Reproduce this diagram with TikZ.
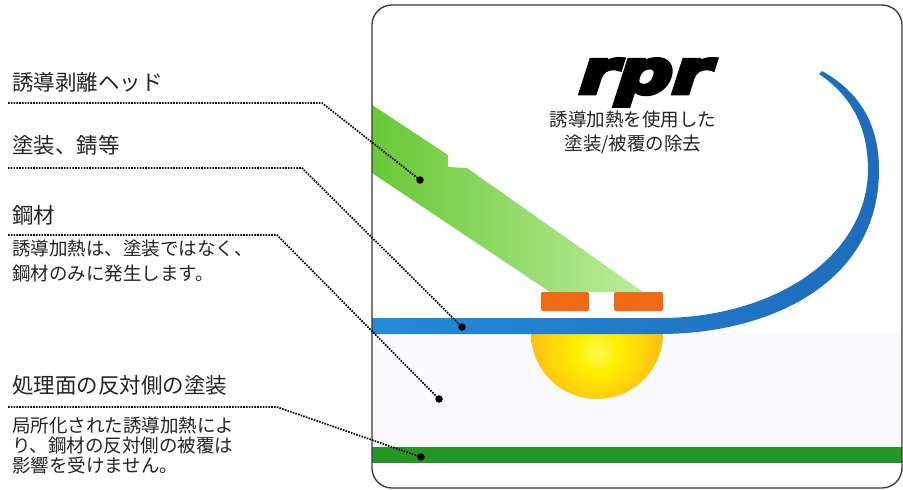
\documentclass[tikz,border=0pt]{standalone}
\usepackage{fontspec}
\newfontfamily\jpfont{Noto Sans CJK JP}
\newfontfamily\logofont{DejaVu Sans Bold}[FakeSlant=0.32,FakeStretch=1.28,FakeBold=8]

\definecolor{ink}{RGB}{35,35,35}
\definecolor{framecol}{RGB}{55,55,55}
\definecolor{headA}{RGB}{100,198,50}
\definecolor{headB}{RGB}{188,236,155}
\definecolor{steelA}{RGB}{35,140,215}
\definecolor{steelB}{RGB}{30,108,188}
\definecolor{coilcol}{RGB}{240,105,20}
\definecolor{backcoat}{RGB}{35,150,35}
\definecolor{haze}{RGB}{250,250,252}
\definecolor{sunA}{RGB}{255,250,80}
\definecolor{sunB}{RGB}{255,238,0}
\definecolor{sunC}{RGB}{252,200,15}
\definecolor{sunD}{RGB}{244,165,28}
\definecolor{sunE}{RGB}{250,215,130}

% heat spot: bright core slightly below the centre, soft orange rim
\pgfdeclareradialshading{sunglow}{\pgfpoint{0bp}{-8bp}}{%
  color(0bp)=(sunA); color(8bp)=(sunB); color(22bp)=(sunC);
  color(35bp)=(sunD); color(43bp)=(sunE); color(50bp)=(white)}

\tikzset{
  lbl/.style={anchor=base west, inner sep=0pt, text=ink,
    font=\jpfont\fontsize{21.5}{26}\selectfont},
  note/.style={anchor=north west, inner sep=0pt, text=ink, align=left},
  leader/.style={draw=black, line width=1.7pt, dash pattern=on 1.6pt off 1.2pt},
  dotmark/.style={circle, fill=black, inner sep=0pt, minimum size=7.5pt},
  coil/.style={fill=coilcol, rounded corners=1.5pt},
}

\begin{document}
\begin{tikzpicture}[x=1pt,y=-1pt]
\useasboundingbox (0,0) rectangle (903,490);

% ---- panel contents ----
\begin{scope}
  \clip[rounded corners=20pt] (372,5) rectangle (902,488);
  \fill[white] (372,5) rectangle (902,488);
  \fill[haze] (372,333) rectangle (902,447);
  % coating on the back side
  \fill[backcoat] (372,447) rectangle (902,463);
  % heated zone in the steel
  \begin{scope}
    \clip (500,320) rectangle (700,410);
    \shade[shading=sunglow] (597,333) circle (66);
  \end{scope}
  % induction head
  \shade[left color=headA, right color=headB]
    (360,97) -- (448,155) -- (448,167) -- (467,168) -- (643,292)
    -- (550,292) -- (360,165) -- cycle;
  % coils
  \fill[coil] (541,292) rectangle (589,311);
  \fill[coil] (614,292) rectangle (663,311);
  % steel sheet, peeled coating curling up
  \shade[left color=steelA, right color=steelB]
    (360,334) -- (660,334)
    .. controls (768,334) and (879,284) .. (879,170)
    .. controls (879,120) and (856,90) .. (822,71)
    -- (819,74)
    .. controls (850,95) and (868,125) .. (868,170)
    .. controls (867,258) and (772,318) .. (660,318)
    -- (360,318) -- cycle;
\end{scope}
\draw[framecol, line width=1.3pt, rounded corners=20pt] (372,5) rectangle (902,488);

% ---- title ----
\node[inner sep=0pt, anchor=base, text=black] (logo) at (640,93)
  {\logofont\fontsize{60}{60}\selectfont rpr};
\node[inner sep=0pt, anchor=north, text=ink, align=center,
  font=\jpfont\fontsize{18.5}{24}\selectfont] (title) at (633,111)
  {誘導加熱を使用した\\塗装/被覆の除去};

% ---- labels ----
\node[lbl] (hHead) at (12,90.5) {誘導剥離ヘッド};
\node[lbl] (hCoat) at (12,153) {塗装、錆等};
\node[lbl] (hSteel) at (12,223.5) {鋼材};
\node[note, font=\jpfont\fontsize{18.5}{25}\selectfont] (nSteel) at (12,240)
  {誘導加熱は、塗装ではなく、\\鋼材のみに発生します。};
\node[lbl] (hBack) at (12,393) {処理面の反対側の塗装};
\node[note, font=\jpfont\fontsize{18.5}{20}\selectfont] (nBack) at (12,416.5)
  {局所化された誘導加熱によ\\り、鋼材の反対側の被覆は\\影響を受けません。};

% ---- leader lines ----
\coordinate (s1) at (8,103);   \coordinate (b1) at (322,103);
\coordinate (s2) at (8,168);   \coordinate (b2) at (302,168);
\coordinate (s3) at (8,235);   \coordinate (b3) at (277,235);
\coordinate (s4) at (8,407);   \coordinate (b4) at (277,407);
\node[dotmark] (d1) at (420,180) {};
\node[dotmark] (d2) at (462,327) {};
\node[dotmark] (d3) at (439,399) {};
\node[dotmark] (d4) at (421,457) {};
\draw[leader] (s1) -- (b1) -- (d1.center);
\draw[leader] (s2) -- (b2) -- (d2.center);
\draw[leader] (s3) -- (b3) -- (d3.center);
\draw[leader] (s4) -- (b4) -- (d4.center);
\end{tikzpicture}
\end{document}
